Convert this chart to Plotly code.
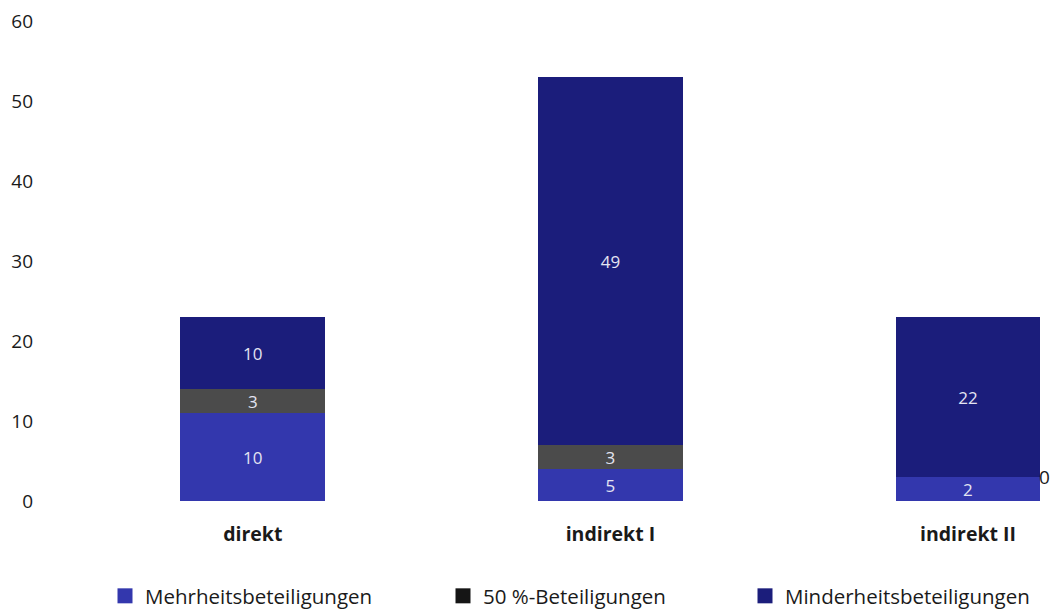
import plotly.graph_objects as go

categories = ["direkt", "indirekt I", "indirekt II"]
series_names = ["Mehrheitsbeteiligungen", "50 %-Beteiligungen", "Minderheitsbeteiligungen"]
# bar heights as drawn in the picture
mehrheit = [11, 4, 3]
fifty = [3, 3, 0]
minderheit = [9, 46, 20]
# values printed on the bars
mehrheit_labels = ["10", "5", "2"]
fifty_labels = ["3", "3", ""]
minderheit_labels = ["10", "49", "22"]
zero_label = "0"
y_ticks = [0, 10, 20, 30, 40, 50, 60]

bar_colors = ["#3337ad", "#4b4b4b", "#1b1d7b"]
legend_colors = ["#3337ad", "#151515", "#1b1d7b"]
FONT = "Open Sans"
W, H = 1052, 610
X_RANGE = [-0.5, 2.235]

fig = go.Figure()
series = [mehrheit, fifty, minderheit]
labels = [mehrheit_labels, fifty_labels, minderheit_labels]
for vals, labs, col, name in zip(series, labels, bar_colors, series_names):
    fig.add_trace(go.Bar(
        x=categories, y=vals, name=name, marker=dict(color=col, line=dict(width=0)),
        text=labs, textposition="inside", insidetextanchor="middle", textangle=0,
        constraintext="none",
        textfont=dict(family=FONT, size=17, color="#e4e4f2"),
        showlegend=False, width=0.405,
    ))

legend_x = [105, 443, 745]
for i, (name, col) in enumerate(zip(series_names, legend_colors)):
    lg = "legend" if i == 0 else f"legend{i+1}"
    fig.add_trace(go.Scatter(
        x=[None], y=[None], mode="markers", name=name,
        marker=dict(symbol="square", size=15, color=col),
        legend=lg, showlegend=True,
    ))

legend_common = dict(
    orientation="h", xref="container", yref="container", xanchor="left", yanchor="middle",
    font=dict(family=FONT, size=20.5, color="#1a1a1a"), bgcolor="rgba(0,0,0,0)", borderwidth=0,
)
fig.update_layout(
    legend=dict(x=legend_x[0] / W, y=1 - 596 / H, **legend_common),
    legend2=dict(x=legend_x[1] / W, y=1 - 596 / H, **legend_common),
    legend3=dict(x=legend_x[2] / W, y=1 - 596 / H, **legend_common),
)

# "0" label for the empty 50 % segment of the last bar
fig.add_annotation(
    x=X_RANGE[1], y=mehrheit[2] + fifty[2], text=zero_label, showarrow=False,
    xanchor="right", yanchor="middle", font=dict(family=FONT, size=19, color="#1a1a1a"),
)

fig.update_layout(
    barmode="stack", width=W, height=H,
    margin=dict(l=74, r=0, t=21, b=109),
    paper_bgcolor="white", plot_bgcolor="white",
    font=dict(family=FONT, size=19, color="#1a1a1a"),
    xaxis=dict(range=X_RANGE, showgrid=False, zeroline=False, showline=False, ticks="",
               tickfont=dict(family=FONT, size=19.5, color="#1a1a1a", weight="bold"),
               ticklabelstandoff=19),
    yaxis=dict(range=[0, 60], tickvals=y_ticks, showgrid=False, zeroline=False, showline=False,
               ticks="", tickfont=dict(family=FONT, size=19, color="#1a1a1a"),
               ticklabelstandoff=40),
)

fig.write_html("out.html")
